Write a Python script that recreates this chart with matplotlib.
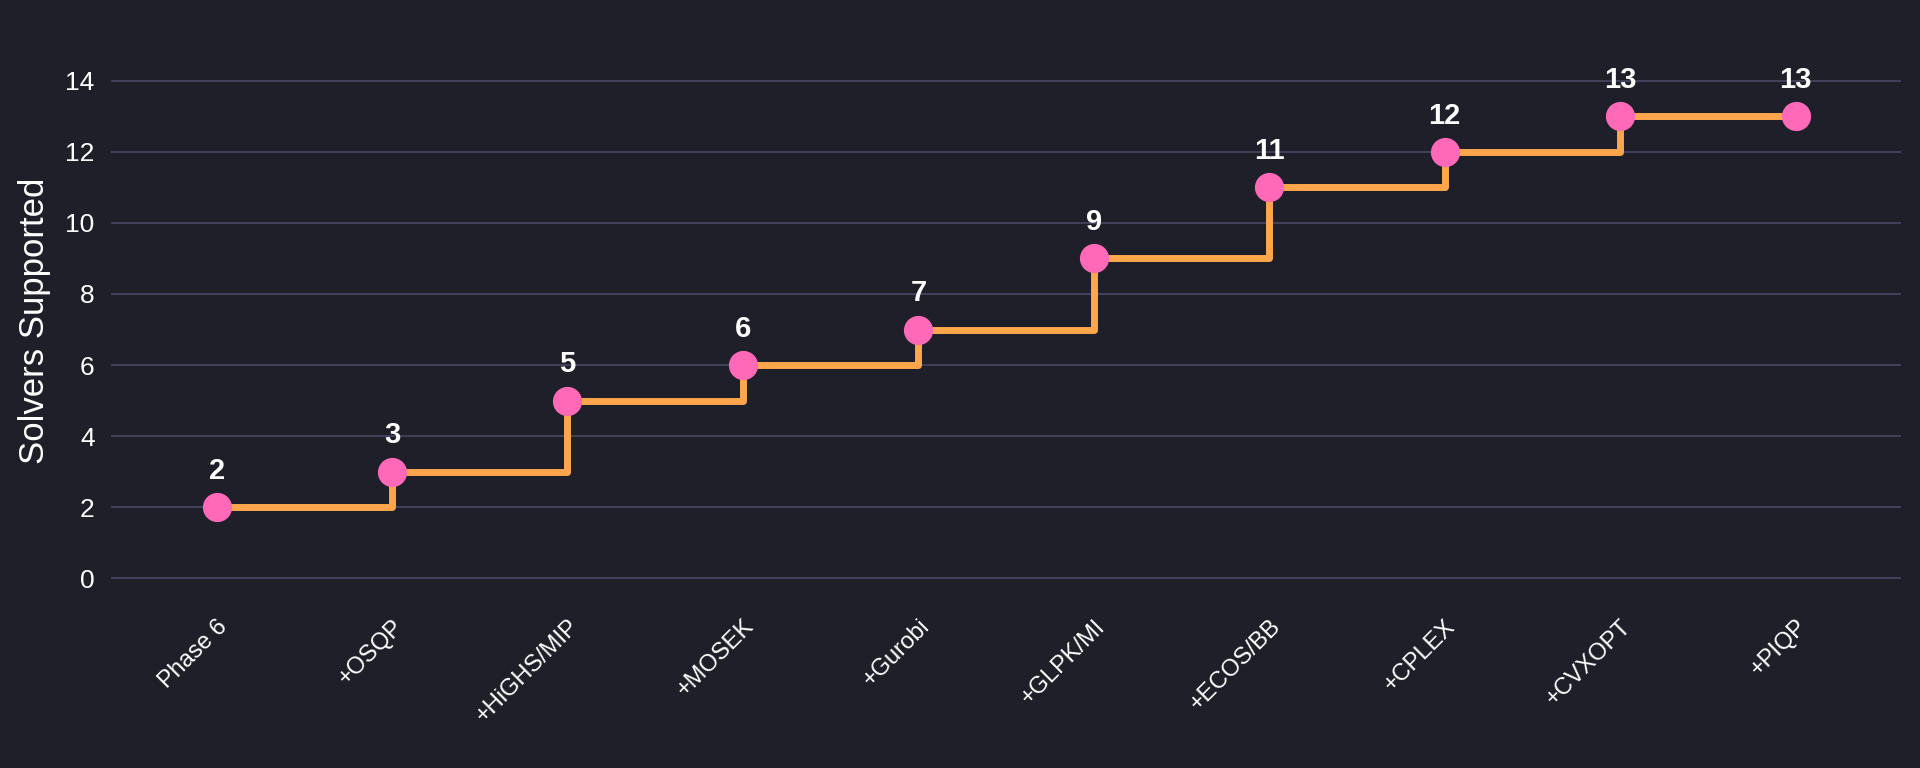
import matplotlib
matplotlib.use("Agg")
import matplotlib.pyplot as plt

plt.rcParams['font.family'] = ['Liberation Sans', 'DejaVu Sans']

categories = ["Phase 6", "+OSQP", "+HiGHS/MIP", "+MOSEK", "+Gurobi", "+GLPK/MI", "+ECOS/BB", "+CPLEX", "+CVXOPT", "+PIQP"]
solvers = [2, 3, 5, 6, 7, 9, 11, 12, 13, 13]

bg = "#1f1f29"
fig = plt.figure(figsize=(19.2, 7.68), dpi=100, facecolor=bg)
ax = fig.add_axes([0.058, 0.224, 0.932, 0.717], facecolor=bg)
x = list(range(len(categories)))
ax.plot(x, solvers, drawstyle="steps-post", color="#ffa64d", lw=5, zorder=2)
ax.scatter(x, solvers, s=400, color="#ff69b8", zorder=3)
for xi, v in zip(x, solvers):
    ax.annotate(str(v), (xi, v), xytext=(0, 16), textcoords="offset points",
                ha="center", va="bottom", color="white", fontsize=21, fontweight="bold")
ax.set_xlim(-0.6, 9.6)
ax.set_ylim(-0.5, 15)
ax.set_yticks(range(0, 15, 2))
ax.set_xticks(x)
ax.set_xticklabels(categories, rotation=45, ha="right", rotation_mode="anchor", fontsize=17, color="white")
ax.tick_params(axis="y", labelsize=19, colors="white", length=0, pad=12)
ax.tick_params(axis="x", length=0, pad=14)
ax.grid(axis="y", color="#474766", lw=1.2)
ax.set_axisbelow(True)
for s in ax.spines.values():
    s.set_visible(False)
ax.set_ylabel("Solvers Supported", fontsize=25, color="white", labelpad=10)
fig.savefig("out.png", facecolor=bg)
